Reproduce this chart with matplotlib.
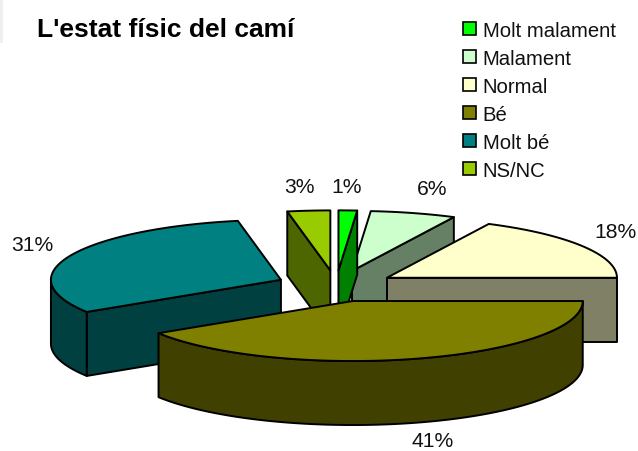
import numpy as np
import matplotlib
matplotlib.use("Agg")
import matplotlib.pyplot as plt
from matplotlib.patches import Polygon, Patch, Rectangle

plt.rcParams['font.family'] = ['Liberation Sans', 'DejaVu Sans']

# Data
categories = ["Molt malament", "Malament", "Normal", "Bé", "Molt bé", "NS/NC"]
shares = [1.3, 6.0, 17.7, 41.0, 31.0, 3.0]
pct_labels = ["1%", "6%", "18%", "41%", "31%", "3%"]
colors = ["#00FF00", "#CCFFCC", "#FFFFCC", "#808000", "#008080", "#99CC00"]
side_colors = ["#008000", "#668066", "#808066", "#404000", "#004040", "#4D6600"]

# Layout of the exploded 3-D pie (pixels)
W, H = 638, 452
CX, CY = 336, 287
RX, RY = 230, 60
DEPTH = 64
EXPLODE = 60
draw_order = [5, 1, 0, 2, 4, 3]
label_xy = [(347, 188), (432, 190), (616, 233), (433, 442), (32, 246), (299, 188)]

fig = plt.figure(figsize=(W / 100, H / 100), dpi=100)
ax = fig.add_axes([0, 0, 1, 1])
ax.set_xlim(0, W)
ax.set_ylim(H, 0)
ax.axis("off")

ax.add_patch(Rectangle((0, 0), 3, 44, fc="#EFEFEF", ec="none"))

LW = 1.4
edges = np.concatenate([[0], np.cumsum(shares)]) / np.sum(shares) * 360


def rim(ax0, ay0, t0, t1):
    t = np.radians(np.linspace(t0, t1, max(2, int(abs(t1 - t0)) + 2)))
    return np.column_stack([ax0 + RX * np.sin(t), ay0 - RY * np.cos(t)])


def cross(u, v):
    return u[0] * v[1] - u[1] * v[0]


for i in draw_order:
    t0, t1 = edges[i], edges[i + 1]
    mid = np.radians((t0 + t1) / 2)
    ax0 = CX + EXPLODE * np.sin(mid)
    ay0 = CY - EXPLODE * RY / RX * np.cos(mid)
    down = np.array([0, DEPTH])
    apex = np.array([ax0, ay0])
    z = 2 + draw_order.index(i)
    inner = rim(ax0, ay0, (t0 + t1) / 2, (t0 + t1) / 2)[0] - apex

    # radial cut faces that look towards the viewer
    for t in (t0, t1):
        p = rim(ax0, ay0, t, t)[0]
        d = p - apex
        if cross(d, down) * cross(d, inner) < 0:
            ax.add_patch(Polygon([apex, p, p + down, apex + down], closed=True,
                                 fc=side_colors[i], ec="black", lw=LW, zorder=z, joinstyle="round"))
    # outer visible wall
    a, b = max(t0, 90), min(t1, 270)
    if b > a:
        r = rim(ax0, ay0, a, b)
        ax.add_patch(Polygon(np.vstack([r, (r + down)[::-1]]), closed=True,
                             fc=side_colors[i], ec="black", lw=LW, zorder=z, joinstyle="round"))
    # top face
    ax.add_patch(Polygon(np.vstack([apex, rim(ax0, ay0, t0, t1)]), closed=True,
                         fc=colors[i], ec="black", lw=LW, zorder=z, joinstyle="round"))

for lab, (x, y) in zip(pct_labels, label_xy):
    ax.text(x, y, lab, fontsize=15.2, color="#111111", ha="center", va="center", zorder=20)

ax.text(37, 37, "L'estat físic del camí", fontsize=19, fontweight="bold",
        color="black", ha="left", va="baseline", zorder=20)

handles = [Patch(fc=c, ec="black", lw=1.2) for c in colors]
leg = ax.legend(handles, categories, loc="upper left", bbox_to_anchor=(463, 22),
                bbox_transform=ax.transData, frameon=False, fontsize=14.6,
                handlelength=0.62, handleheight=0.62, handletextpad=0.35,
                labelspacing=0.44, borderpad=0, borderaxespad=0)
leg.set_zorder(20)
for t in leg.get_texts():
    t.set_color("#111111")

fig.savefig("out.png", dpi=100)
